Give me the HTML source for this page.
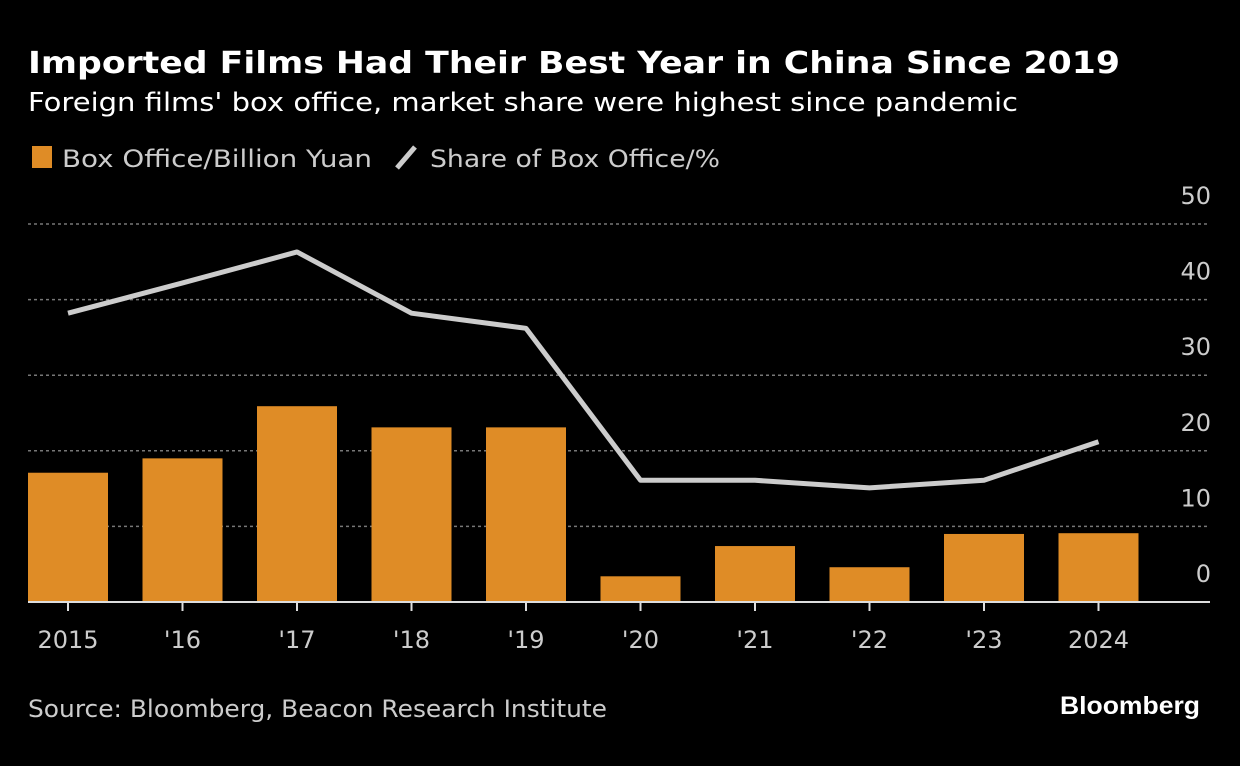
<!DOCTYPE html>
<html><head><meta charset="utf-8"><style>
body{margin:0;background:#000;width:1240px;height:766px;overflow:hidden;font-family:"DejaVu Sans","Liberation Sans",sans-serif;color:#fff}
</style></head><body>
<svg width="1240" height="766" style="position:absolute;left:0;top:0">
<text x="28" y="73" font-size="30" font-weight="bold" fill="#fff" textLength="1092" lengthAdjust="spacingAndGlyphs">Imported Films Had Their Best Year in China Since 2019</text>
<text x="28" y="111" font-size="26" fill="#fff" textLength="990" lengthAdjust="spacingAndGlyphs">Foreign films' box office, market share were highest since pandemic</text>
<rect x="32" y="146" width="20" height="22" fill="#df8c26"/>
<text x="62" y="167" font-size="24" fill="#ccc" textLength="310" lengthAdjust="spacingAndGlyphs">Box Office/Billion Yuan</text>
<line x1="397" y1="168" x2="415" y2="147" stroke="#ccc" stroke-width="5"/>
<text x="430" y="167" font-size="24" fill="#ccc" textLength="290" lengthAdjust="spacingAndGlyphs">Share of Box Office/%</text>
<g id="grid"></g><g id="bars"></g><g id="line"></g><g id="xaxis"></g>
<text x="28" y="717" font-size="24" fill="#ccc" textLength="579" lengthAdjust="spacingAndGlyphs">Source: Bloomberg, Beacon Research Institute</text>
<text x="1200" y="714" font-size="25" font-weight="bold" fill="#fff" text-anchor="end" font-family="Liberation Sans, sans-serif" textLength="140" lengthAdjust="spacingAndGlyphs">Bloomberg</text>
</svg>
<script>
const categories=["2015","'16","'17","'18","'19","'20","'21","'22","'23","2024"];
const boxOffice=[17.1,19.0,25.9,23.1,23.1,3.4,7.4,4.6,9.0,9.1];
const share=[38.2,42.2,46.3,38.2,36.2,16.1,16.1,15.1,16.1,21.2];
const yTicks=[0,10,20,30,40,50];
const NS="http://www.w3.org/2000/svg";
const y=v=>602-v*7.56;
const x=i=>68+i*114.5;
function mk(t,a,p){const e=document.createElementNS(NS,t);for(const k in a)e.setAttribute(k,a[k]);document.getElementById(p).appendChild(e);return e;}
yTicks.forEach(t=>{
 if(t>0){const g=mk('line',{x1:28,x2:1210,y1:y(t),y2:y(t),stroke:'#777','stroke-width':1.5,'stroke-dasharray':'3,3'},'grid');
 
 }
 const l=mk('text',{x:1211,y:y(t)-20,'font-size':24,fill:'#ccc','text-anchor':'end'},'grid');
 l.textContent=t;
 
 
});
boxOffice.forEach((v,i)=>{
 const r=mk('rect',{x:x(i)-40,y:y(v),width:80,height:602-y(v),fill:'#df8c26'},'bars');
 
 
});
const pl=mk('polyline',{points:share.map((v,i)=>x(i)+','+y(v)).join(' '),fill:'none',stroke:'#ccc','stroke-width':5,'stroke-linejoin':'round'},'line');


const b=mk('line',{x1:28,x2:1210,y1:602,y2:602,stroke:'#ddd','stroke-width':2},'xaxis');


categories.forEach((c,i)=>{
 const tk=mk('line',{x1:x(i),x2:x(i),y1:602,y2:611,stroke:'#ddd','stroke-width':2},'xaxis');
 
 
 const t=mk('text',{x:x(i),y:648,'font-size':24,fill:'#ccc','text-anchor':'middle'},'xaxis');
 t.textContent=c;
 
 
});
</script>
</body></html>
